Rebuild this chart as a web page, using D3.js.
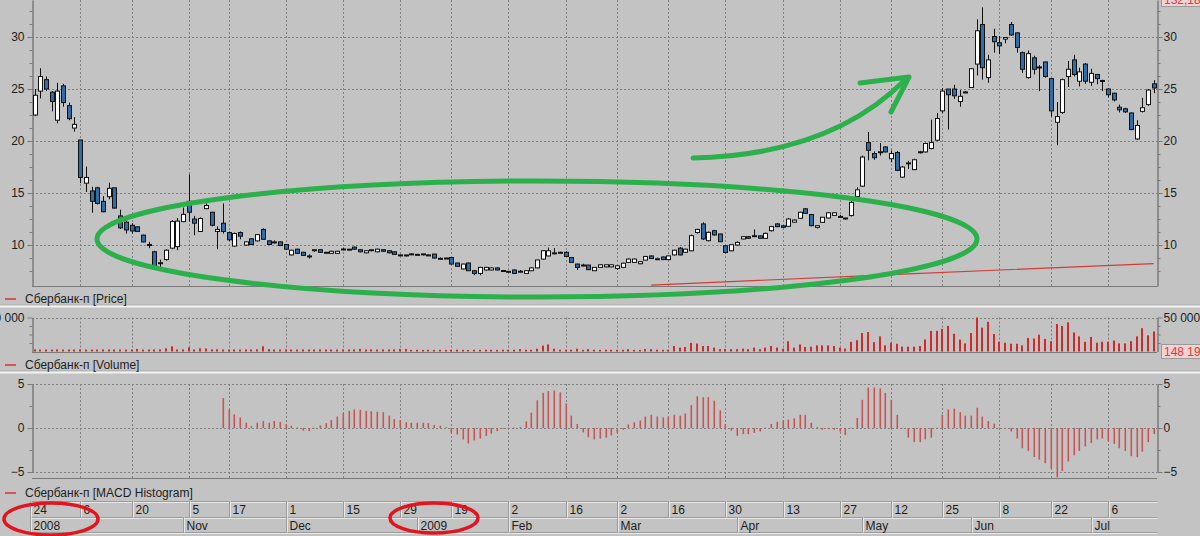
<!DOCTYPE html>
<html><head><meta charset="utf-8">
<script src="https://cdn.jsdelivr.net/npm/d3@7"></script>
<style>
body{margin:0;background:#c3c3c3;overflow:hidden;}
svg{display:block;font-family:"Liberation Sans",Arial,sans-serif;font-size:12px;}
</style></head><body><svg id="c" width="1200" height="536"></svg>
<script>
// ---------- DATA ----------
const opens=[22.5,24.8,25.9,24.7,22.0,25.3,23.4,21.25,20.1,15.95,
15.2,15.5,14.2,14.65,15.5,12.8,12.2,11.9,11.75,10.95,
10.0,9.35,8.25,8.6,9.7,9.85,12.25,14.2,12.5,11.3,
13.5,13.15,11.3,12.1,11.2,9.9,11.2,10.0,10.6,10.4,
11.5,10.4,10.3,10.3,10.05,9.05,9.6,9.3,8.95,9.5,
9.55,9.3,9.2,9.2,9.6,9.6,9.8,9.55,9.25,9.55,
9.35,9.55,9.45,9.35,9.05,9.05,9.15,9.1,9.15,9.05,
9.13,8.7,8.75,8.8,8.27,7.7,8.27,7.53,7.27,7.6,
7.6,7.8,7.55,7.47,7.6,7.47,7.27,7.53,7.8,8.65,
8.95,9.23,9.3,9.3,8.8,8.17,8.07,8.07,7.53,7.85,
7.9,7.9,7.75,7.85,8.33,8.33,8.2,8.55,8.95,8.67,
8.85,8.6,9.05,9.7,9.3,9.45,11.2,12.03,10.42,11.38,
11.06,9.93,9.45,10.0,10.58,10.8,10.88,10.88,10.64,11.38,
12.03,11.85,11.8,12.2,12.57,13.48,12.93,11.7,12.18,12.6,
12.85,12.73,12.6,12.83,14.67,15.66,19.85,18.8,18.95,19.43,
18.3,18.9,16.53,17.88,17.25,18.95,18.95,19.28,20.08,22.9,
25.0,25.0,23.8,24.7,25.15,27.4,31.2,26.1,30.05,29.45,
29.8,31.2,30.4,28.5,26.1,28.0,27.1,27.6,26.0,21.8,
22.75,26.2,27.8,25.75,27.4,25.65,26.4,25.8,25.0,24.6,
23.25,23.1,22.7,20.2,22.85,23.5,25.5];
const closes=[24.4,26.2,25.0,23.8,24.8,23.7,22.15,21.6,16.5,16.5,
14.2,14.0,13.2,15.45,13.55,11.65,11.45,11.35,11.3,10.3,
10.05,8.0,8.3,9.5,12.25,12.3,12.95,13.15,12.1,12.55,
13.8,11.9,11.5,11.3,10.5,11.1,10.85,10.3,10.05,11.0,
10.55,10.05,10.3,9.95,9.6,9.5,9.2,9.0,8.95,9.55,
9.3,9.3,9.4,9.4,9.62,9.6,9.6,9.35,9.45,9.55,
9.6,9.4,9.25,9.1,9.03,9.05,9.13,9.1,9.15,9.03,
8.75,8.72,8.73,8.17,7.95,8.17,7.53,7.27,7.85,7.85,
7.8,7.6,7.53,7.47,7.27,7.48,7.53,7.8,8.56,9.45,
9.45,9.25,9.28,8.9,8.33,7.85,8.08,7.63,7.85,8.1,
8.1,8.1,8.0,8.25,8.65,8.65,8.4,8.9,8.7,8.68,
8.6,8.95,9.5,9.05,9.6,10.9,11.5,10.58,11.22,10.97,
10.32,9.28,10.03,10.25,10.8,10.65,10.9,10.65,11.12,11.77,
11.77,11.7,12.5,12.4,13.15,13.05,11.86,11.86,12.67,13.1,
13.1,12.75,12.6,14.1,15.31,18.46,19.11,18.4,18.97,18.95,
18.8,17.18,17.5,17.9,18.2,18.97,19.76,19.85,22.17,24.8,
24.45,24.35,24.3,24.72,26.95,30.6,27.05,27.8,29.55,29.15,
29.95,30.2,29.0,26.9,28.4,26.9,27.12,26.2,22.9,22.35,
25.9,26.9,26.4,26.65,25.75,26.5,26.0,25.82,24.45,23.95,
23.0,22.8,21.1,21.5,23.2,24.9,25.1];
const highs=[25.0,27.0,26.2,24.8,25.6,25.5,23.7,22.3,20.1,17.55,
15.6,15.6,14.7,16.0,15.5,13.4,12.7,12.1,11.8,11.0,
10.3,9.45,8.6,9.6,12.4,12.6,13.6,16.8,12.8,12.65,
14.3,13.2,11.8,14.0,11.3,11.2,11.3,10.35,10.65,11.05,
11.6,10.45,10.45,10.35,10.1,9.55,9.65,9.35,9.1,9.6,
9.6,9.3,9.45,9.45,9.75,9.62,9.85,9.6,9.5,9.55,
9.65,9.6,9.5,9.4,9.08,9.05,9.18,9.15,9.15,9.08,
9.15,8.8,8.78,8.85,8.3,8.2,8.3,7.6,7.9,7.9,
7.85,7.85,7.6,7.47,7.65,7.6,7.55,7.85,8.6,9.5,
9.75,9.7,9.35,9.4,8.85,8.2,8.2,8.1,7.88,8.15,
8.12,8.12,8.05,8.3,8.7,8.7,8.45,8.95,9.0,8.8,
8.9,9.0,9.55,9.8,9.65,11.0,11.55,12.18,11.3,11.45,
11.1,9.95,10.1,10.35,10.85,10.85,11.5,10.9,11.2,11.85,
12.1,11.9,12.6,12.45,13.2,13.55,12.95,11.9,12.7,13.15,
13.15,12.9,12.62,14.25,15.55,18.6,20.88,19.0,19.8,19.5,
19.1,19.05,17.6,18.1,18.3,19.05,19.85,22.05,22.7,25.1,
25.0,25.4,24.9,24.8,27.0,31.7,32.85,28.3,30.8,30.1,
30.0,31.45,30.45,28.6,28.7,28.2,27.3,27.65,26.0,23.75,
26.0,27.7,28.3,27.05,27.5,26.95,26.45,25.9,25.1,24.65,
23.5,23.2,22.75,22.0,24.15,25.0,25.85];
const lows=[22.4,24.1,24.8,22.85,21.7,23.3,22.0,20.9,15.95,15.1,
13.1,13.9,13.15,14.4,13.5,11.55,11.1,11.1,11.25,10.25,
9.7,7.9,7.7,8.5,9.6,9.5,12.2,12.25,10.95,11.25,
13.45,11.8,9.6,11.1,10.4,9.85,10.55,9.95,10.0,10.35,
10.5,10.0,10.15,9.9,9.55,9.0,9.15,8.95,8.7,9.35,
9.25,9.15,9.15,9.2,9.5,9.58,9.55,9.3,9.2,9.4,
9.3,9.35,9.2,9.05,9.0,8.9,9.1,9.08,9.0,9.0,
8.7,8.6,8.7,8.1,7.9,7.65,7.5,7.1,7.1,7.55,
7.55,7.55,7.5,7.3,7.25,7.35,7.25,7.5,7.75,8.6,
8.9,9.1,9.25,8.85,8.3,7.6,7.95,7.6,7.5,7.8,
7.85,7.85,7.6,7.8,8.3,8.3,8.15,8.5,8.65,8.55,
8.55,8.55,9.0,9.0,9.25,9.4,11.1,10.48,10.35,10.9,
10.3,9.2,9.4,9.95,10.55,10.6,10.85,10.6,10.6,11.3,
11.7,11.65,11.75,12.15,12.5,13.0,11.8,11.6,12.15,12.55,
12.8,12.65,12.45,12.75,14.6,15.6,18.15,18.2,18.6,18.9,
17.95,17.1,16.45,17.3,17.2,18.8,18.9,19.2,20.0,22.7,
21.1,24.05,23.3,24.6,25.1,26.3,25.9,25.6,28.5,28.35,
29.4,30.1,28.5,26.55,26.0,26.4,24.8,26.1,22.35,19.6,
22.6,25.2,26.2,25.25,25.5,25.3,25.45,24.8,24.2,23.8,
22.75,22.7,21.05,20.1,22.75,23.4,24.6];
// volume, thousands
const volumes=[3.0,2.8,2.9,2.8,3.0,2.9,2.8,2.9,3.1,2.9,2.8,2.9,3.0,2.9,3.0,2.9,2.8,3.0,3.8,2.9,2.8,3.0,3.1,
4.7,7.6,3.0,3.1,6.2,3.0,4.7,4.5,3.0,3.2,3.0,2.9,3.0,2.8,3.0,2.9,3.2,7.6,3.5,3.0,2.9,3.0,2.8,2.9,3.0,2.8,2.9,3.0,2.9,2.8,2.9,3.0,2.9,3.0,3.8,2.9,3.0,2.9,3.0,2.9,3.0,3.8,
3.8,2.4,2.5,2.4,2.5,2.4,2.6,2.4,2.5,2.6,2.5,2.4,2.6,2.5,2.6,2.5,2.4,2.6,2.5,2.6,3.5,2.6,2.5,4.1,8.6,10.4,4.1,2.6,2.5,2.6,4.1,2.5,3.5,2.6,2.5,2.6,2.5,2.4,2.6,3.5,2.5,2.4,3.5,3.5,2.6,2.5,2.6,
8.0,5.7,6.6,12.7,11.7,8.0,8.0,5.7,3.5,3.5,3.5,3.5,4.1,3.5,5.7,3.5,5.7,8.0,5.7,4.1,15.1,5.7,10.4,
6.6,7.1,9.0,9.0,9.0,8.0,5.7,4.3,14.3,16.6,27.1,28.6,13.7,22.3,9.0,12.9,11.4,7.1,7.1,7.1,8.0,17.6,30.4,30.4,33.3,37.6,26.1,17.6,11.9,27.1,
50.0,35.1,43.7,25.7,14.3,12.9,11.4,11.4,9.0,20.0,19.0,24.7,18.6,15.1,40.4,37.6,42.9,28.0,22.3,14.3,21.4,12.9,14.3,14.3,16.1,11.9,11.9,15.1,22.3,34.3,23.7,29.4];
const macdStart=33;
const macdValues=[3.4,2.1,1.55,1.2,0.6,0.2,0.6,0.8,0.6,0.8,0.7,0.45,0.25,0.05,-0.3,-0.35,0.05,0.3,0.55,0.9,
1.3,1.65,1.95,2.1,2.05,1.95,1.9,1.85,1.8,1.4,1.0,0.9,0.65,0.6,0.6,0.6,0.55,0.35,0.25,0.1,
-0.55,-0.75,-1.3,-1.75,-1.4,-1.2,-0.9,-0.65,-0.35,-0.1,0.02,0.05,0.1,0.75,1.75,3.15,4.0,4.2,4.25,4.05,
2.8,1.4,0.45,-0.5,-1.05,-1.3,
-1.2,-1.1,-0.85,-0.55,-0.2,0.4,0.65,0.85,1.3,1.5,1.3,1.2,1.3,1.5,1.4,1.65,2.6,3.6,3.5,3.5,3.1,
2.0,0.45,-0.3,-0.9,-0.7,-0.7,-0.55,-0.4,0.03,0.45,0.7,0.85,0.95,1.1,1.5,1.5,0.6,0.1,-0.2,-0.1,
-0.2,-0.4,-0.8,0.03,1.15,3.2,4.6,4.6,4.5,4.0,3.2,1.5,0.03,-1.1,-1.6,-1.6,-1.3,-1.1,0.03,1.5,
2.1,2.2,1.8,1.4,1.4,2.3,1.3,0.8,0.5,0.03,-0.05,-0.4,-1.2,-2.3,-2.6,-3.3,-3.6,-4.0,-4.6,-5.6,
-4.9,-3.8,-3.1,-2.6,-2.1,-1.7,-1.3,-1.2,-1.5,-1.8,-2.3,-2.6,-3.2,-3.3,-2.7,-1.6,-0.7];
const refLineIdx=[108,152,196];
const refLineVal=[6.15,7.2,8.22];
const dayTickIdx=[0,8,17,27,34,44,54,64,73,83,93,102,111,121,131,141,150,159,169,178,188];
const dayTickLabels=["24","6","20","5","17","1","15","29","19","2","16","2","16","30","13","27","12","25","8","22","6"];
const monthIdx=[0,26,44,67,83,102,123,145,164,185];
const monthLabels=["2008","Nov","Dec","2009","Feb","Mar","Apr","May","Jun","Jul"];
const priceTicks=[10,15,20,25,30];
const volumeTicks=[50000];
const macdTicks=[-5,0,5];
const seriesName="Сбербанк-п";

// ---------- DRAW ----------
const svg=d3.select("#c");
const N=opens.length;
const plotL=32, plotR=1157;
const x=d3.scaleLinear().domain([0,N-1]).range([34.5,34.5+5.71*(N-1)]);
const yP=d3.scaleLinear().domain([6.06,33.56]).range([286,0]);
const yV=d3.scaleLinear().domain([0,50000]).range([351.5,317.5]);
const yM=d3.scaleLinear().domain([-5,5]).range([472,384]);
const px=v=>Math.round(v)+0.5;
const gridColor="#808080", axisColor="#7a7a7a", textColor="#1e1e1e";

// separators
[[306.5],[372.5]].forEach(([yy])=>{
  svg.append("line").attr("x1",0).attr("x2",1200).attr("y1",yy-1.5).attr("y2",yy-1.5).attr("stroke","#a9a9a9");
  svg.append("rect").attr("x",0).attr("width",1200).attr("y",yy-1).attr("height",2).attr("fill","#f4f4f4");
});

const panels=[{top:0,bottom:286,y:yP,ticks:priceTicks},{top:317.5,bottom:351.5,y:yV,ticks:volumeTicks},{top:384,bottom:478,y:yM,ticks:macdTicks}];
panels.forEach(p=>{
  const g=svg.append("g");
  g.selectAll("line.v").data(dayTickIdx.slice(1)).join("line")
    .attr("x1",d=>px(x(d))).attr("x2",d=>px(x(d))).attr("y1",p.top).attr("y2",p.bottom)
    .attr("stroke",gridColor).attr("stroke-dasharray","2,2");
  g.selectAll("line.h").data(p.ticks).join("line")
    .attr("x1",plotL).attr("x2",plotR).attr("y1",d=>px(p.y(d))).attr("y2",d=>px(p.y(d)))
    .attr("stroke",gridColor).attr("stroke-dasharray","2,2");
  g.append("line").attr("x1",plotL).attr("x2",plotR).attr("y1",px(p.bottom)).attr("y2",px(p.bottom)).attr("stroke",axisColor);
});

function styleAxis(g){
  g.select(".domain").attr("stroke",axisColor);
  g.selectAll(".tick line").attr("stroke",axisColor);
  g.selectAll(".tick text").attr("fill",textColor).style("font-size","12px").style("font-family","'Liberation Sans',Arial,sans-serif");
}
function axes(scale,major,minor,fmt){
  const gl=svg.append("g").attr("transform",`translate(${plotL+0.5},0)`)
    .call(d3.axisLeft(scale).tickValues(major).tickSize(5).tickSizeOuter(0).tickPadding(3).tickFormat(fmt));
  styleAxis(gl);
  const gl2=svg.append("g").attr("transform",`translate(${plotL+0.5},0)`)
    .call(d3.axisLeft(scale).tickValues(minor).tickSize(3).tickSizeOuter(0).tickFormat(""));
  styleAxis(gl2);
  const gr=svg.append("g").attr("transform",`translate(${plotR+0.5},0)`)
    .call(d3.axisRight(scale).tickValues(major).tickSize(5).tickSizeOuter(0).tickPadding(1).tickFormat(fmt));
  styleAxis(gr);
  const gr2=svg.append("g").attr("transform",`translate(${plotR+0.5},0)`)
    .call(d3.axisRight(scale).tickValues(minor).tickSize(3).tickSizeOuter(0).tickFormat(""));
  styleAxis(gr2);
}
axes(yP,priceTicks,d3.range(7.5,33.6,1.25).filter(v=>v%5!==0),d3.format("d"));
axes(yV,volumeTicks,[12500,25000,37500],d=>"50 000");
axes(yM,macdTicks,[-2.5,2.5],d3.format("d"));

// reference red line in price panel
svg.append("path").datum(refLineIdx.map((d,i)=>[d,refLineVal[i]]))
  .attr("d",d3.line().x(d=>x(d[0])).y(d=>yP(d[1])))
  .attr("fill","none").attr("stroke","#d23c3c").attr("stroke-width",1.2);

// candles
const cg=svg.append("g");
d3.range(N).forEach(i=>{
  const cx=px(x(i));
  cg.append("line").attr("x1",cx).attr("x2",cx).attr("y1",yP(highs[i])).attr("y2",yP(lows[i])).attr("stroke","#111");
  const up=closes[i]>=opens[i];
  const top=yP(Math.max(opens[i],closes[i])), bot=yP(Math.min(opens[i],closes[i]));
  cg.append("rect").attr("x",cx-2).attr("width",4).attr("y",top).attr("height",Math.max(1,bot-top))
    .attr("fill",up?"#ffffff":"#2f6da6").attr("stroke","#111").attr("stroke-width",1);
});

// volume bars
svg.append("g").selectAll("rect").data(volumes).join("rect")
  .attr("x",(d,i)=>Math.round(x(i))-1).attr("width",2)
  .attr("y",d=>yV(d*1000)).attr("height",d=>yV(0)-yV(d*1000))
  .attr("fill","#d02a2a");

// macd histogram
svg.append("g").selectAll("rect").data(macdValues).join("rect")
  .attr("x",(d,i)=>Math.round(x(i+macdStart))-0.5).attr("width",1.6)
  .attr("y",d=>Math.min(yM(d),yM(0))).attr("height",d=>Math.max(0.6,Math.abs(yM(d)-yM(0))))
  .attr("fill","#c85555");

// legends
[[299,"[Price]"],[365,"[Volume]"],[493,"[MACD Histogram]"]].forEach(([yy,t])=>{
  svg.append("line").attr("x1",5).attr("x2",16).attr("y1",yy).attr("y2",yy).attr("stroke","#d83030").attr("stroke-width",1.5);
  svg.append("text").attr("x",25).attr("y",yy+4).attr("fill",textColor).text(seriesName+" "+t);
});

// value boxes on right
svg.append("rect").attr("x",1161.5).attr("y",-8.5).attr("width",45).attr("height",15).attr("fill","#f2d2d2").attr("stroke","#9a9a9a");
svg.append("text").attr("x",1164).attr("y",4).attr("fill","#e03a3a").text("132,18");
svg.append("rect").attr("x",1161.5).attr("y",344.5).attr("width",45).attr("height",14).attr("fill","#f2d2d2").attr("stroke","#9a9a9a");
svg.append("text").attr("x",1164).attr("y",356).attr("fill","#e03a3a").text("148 192");

// date axis
const aTop=501.5, aMid=517.5, aBot=532.5, aL=30.5;
const ag=svg.append("g");
[aTop,aMid,aBot].forEach(yy=>{
  ag.append("line").attr("x1",aL).attr("x2",plotR).attr("y1",yy).attr("y2",yy).attr("stroke","#9c9c9c");
  ag.append("line").attr("x1",aL).attr("x2",plotR).attr("y1",yy+1).attr("y2",yy+1).attr("stroke","#e8e8e8");
});
ag.append("line").attr("x1",aL).attr("x2",aL).attr("y1",aTop).attr("y2",aBot).attr("stroke","#9c9c9c");
const sepX=d=>d===0?aL:px(x(d));
ag.selectAll("line.d").data(dayTickIdx).join("line")
  .attr("x1",sepX).attr("x2",sepX).attr("y1",aTop).attr("y2",aMid).attr("stroke","#9c9c9c");
ag.selectAll("line.d2").data(dayTickIdx).join("line")
  .attr("x1",d=>sepX(d)+1).attr("x2",d=>sepX(d)+1).attr("y1",aTop).attr("y2",aMid).attr("stroke","#e8e8e8");
ag.selectAll("text.d").data(dayTickIdx).join("text")
  .attr("x",d=>sepX(d)+3).attr("y",514).attr("fill",textColor).text((d,i)=>dayTickLabels[i]);
ag.selectAll("line.m").data(monthIdx).join("line")
  .attr("x1",sepX).attr("x2",sepX).attr("y1",aMid).attr("y2",aBot).attr("stroke","#9c9c9c");
ag.selectAll("line.m2").data(monthIdx).join("line")
  .attr("x1",d=>sepX(d)+1).attr("x2",d=>sepX(d)+1).attr("y1",aMid).attr("y2",aBot).attr("stroke","#e8e8e8");
ag.selectAll("text.m").data(monthIdx).join("text")
  .attr("x",d=>sepX(d)+3).attr("y",529.5).attr("fill",textColor).text((d,i)=>monthLabels[i]);

// hand-drawn annotations
const green="#2bb04c";
svg.append("ellipse").attr("cx",537).attr("cy",239).attr("rx",440).attr("ry",58)
  .attr("fill","none").attr("stroke",green).attr("stroke-width",5);
svg.append("path").attr("d","M693,158 Q830,155 905,80").attr("fill","none").attr("stroke",green).attr("stroke-width",5).attr("stroke-linecap","round");
svg.append("path").attr("d","M860,83 L909,77 L891,112").attr("fill","none").attr("stroke",green).attr("stroke-width",5).attr("stroke-linecap","round").attr("stroke-linejoin","round");
const red="#e3141e";
svg.append("ellipse").attr("cx",51).attr("cy",519).attr("rx",47).attr("ry",16).attr("fill","none").attr("stroke",red).attr("stroke-width",3.5);
svg.append("ellipse").attr("cx",434).attr("cy",518).attr("rx",44).attr("ry",15).attr("fill","none").attr("stroke",red).attr("stroke-width",3.5);
</script></body></html>
